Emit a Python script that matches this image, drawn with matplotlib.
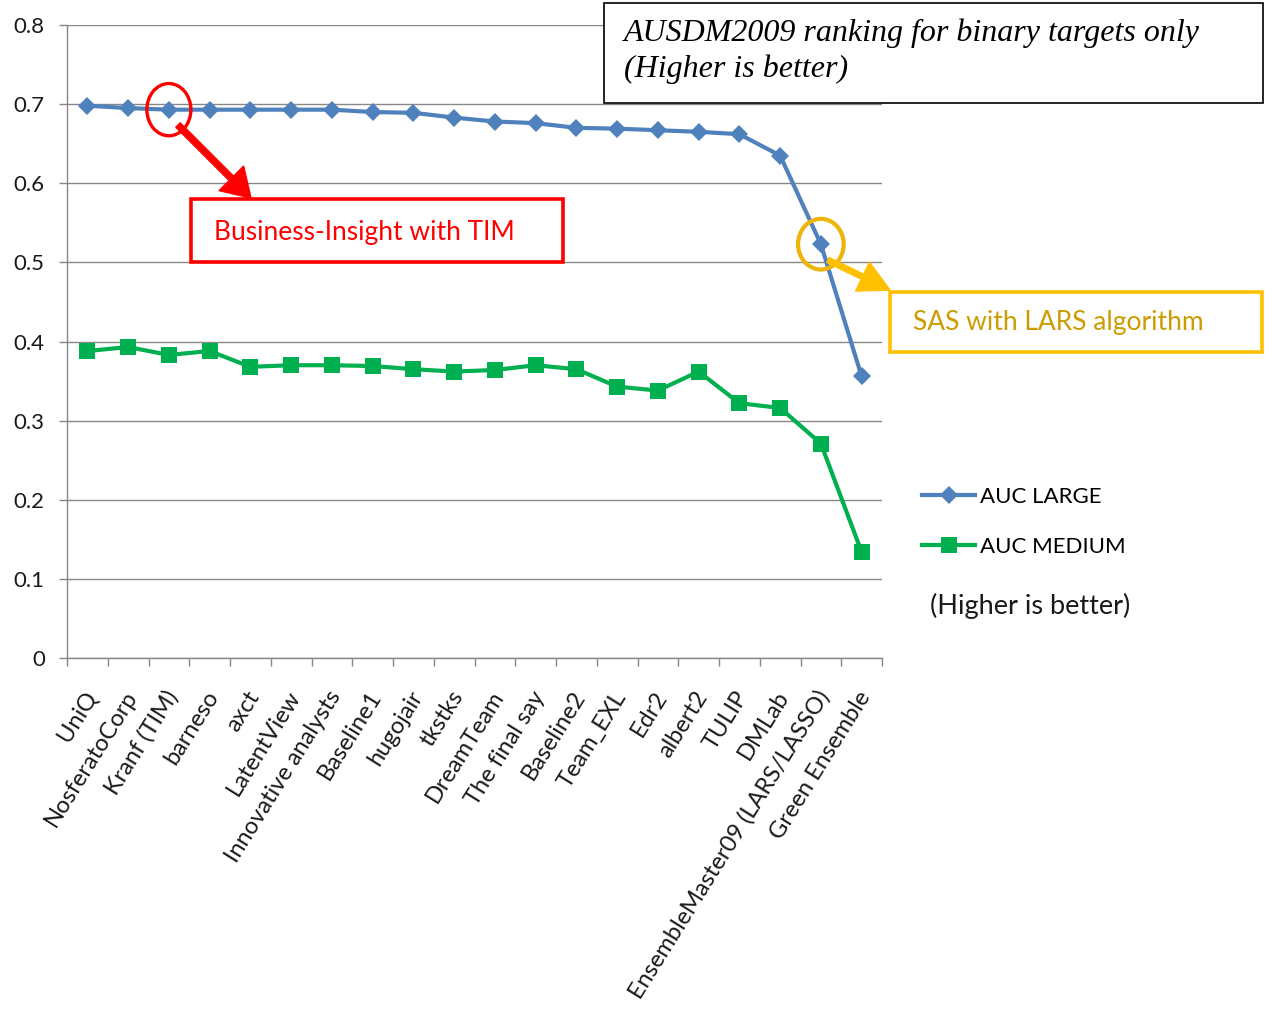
import matplotlib
matplotlib.use("Agg")
import matplotlib.pyplot as plt
from matplotlib.patches import Rectangle, Ellipse, FancyArrowPatch, ArrowStyle
from matplotlib.transforms import ScaledTranslation
import numpy as np

# ---------------- data ----------------
teams = ["UniQ", "NosferatoCorp", "Kranf (TIM)", "barneso", "axct", "LatentView",
         "Innovative analysts", "Baseline1", "hugojair", "tkstks", "DreamTeam",
         "The final say", "Baseline2", "Team_EXL", "Edr2", "albert2", "TULIP",
         "DMLab", "EnsembleMaster09 (LARS/LASSO)", "Green Ensemble"]

auc_large = [0.698, 0.695, 0.693, 0.693, 0.693, 0.693, 0.693, 0.690, 0.689, 0.683,
             0.678, 0.676, 0.670, 0.669, 0.667, 0.665, 0.662, 0.635, 0.523, 0.356]

auc_medium = [0.388, 0.393, 0.383, 0.388, 0.368, 0.370, 0.370, 0.369, 0.365, 0.362,
              0.364, 0.370, 0.365, 0.343, 0.338, 0.362, 0.322, 0.316, 0.271, 0.134]

y_ticks = [0, 0.1, 0.2, 0.3, 0.4, 0.5, 0.6, 0.7, 0.8]
y_tick_labels = ["0", "0.1", "0.2", "0.3", "0.4", "0.5", "0.6", "0.7", "0.8"]

title_lines = ["AUSDM2009 ranking for binary targets only", "(Higher is better)"]
tim_text = "Business-Insight with TIM"
sas_text = "SAS with LARS algorithm"

# ---------------- style ----------------
W, H = 1265, 1014
plt.rcParams["font.family"] = ["Lato", "DejaVu Sans"]

blue = "#4F81BD"
green = "#00B050"
grid_col = "#878787"
red = "#FF0000"
gold = "#FFC000"
gold_txt = "#CC9C00"
txt_col = "#1a1a1a"


def fp(x, y):
    # image pixel -> figure fraction
    return x / W, 1 - y / H


fig = plt.figure(figsize=(W / 100, H / 100), dpi=100)
ax = fig.add_axes([67 / W, 1 - 658 / H, (882 - 67) / W, (658 - 25) / H])

x = np.arange(len(teams))
ax.plot(x, auc_large, color=blue, lw=3, marker="D", ms=9, mew=0,
        label="AUC LARGE", zorder=3)
ax.plot(x, auc_medium, color=green, lw=3, marker="s", ms=12, mew=0,
        label="AUC MEDIUM", zorder=3)

ax.set_xlim(-0.5, len(teams) - 0.5)
ax.set_ylim(0, 0.8)

ax.set_yticks(y_ticks)
ax.set_yticklabels(y_tick_labels, fontsize=16, color=txt_col)
ax.tick_params(axis="y", length=6, width=1, color=grid_col, pad=10)

ax.set_xticks(x)
ax.set_xticklabels(teams, rotation=58, ha="right", va="center",
                   rotation_mode="anchor", fontsize=17, color=txt_col)
ax.tick_params(axis="x", which="major", length=0, pad=25)
shift = ScaledTranslation(4 / 100, 0, fig.dpi_scale_trans)
for lbl in ax.get_xticklabels():
    lbl.set_transform(lbl.get_transform() + shift)
ax.set_xticks(np.arange(-0.5, len(teams)), minor=True)
ax.tick_params(axis="x", which="minor", length=6, width=1, color=grid_col)

ax.yaxis.grid(True, color=grid_col, lw=1)
ax.set_axisbelow(True)
for s in ["top", "right"]:
    ax.spines[s].set_visible(False)
for s in ["left", "bottom"]:
    ax.spines[s].set_color(grid_col)
    ax.spines[s].set_linewidth(1)

# highlight circles on the two points of interest
ax.add_patch(Ellipse((2, auc_large[2]), 1.08, 0.066, fill=False, ec=red, lw=2.4, zorder=4))
ax.add_patch(Ellipse((18, auc_large[18]), 1.12, 0.064, fill=False, ec="#EDB40A", lw=3, zorder=4))

# legend
ax.legend(loc="center left", bbox_to_anchor=fp(922, 522), bbox_transform=fig.transFigure,
          frameon=False, fontsize=16, handlelength=2.4, handletextpad=0.2,
          labelspacing=1.35, borderpad=0, borderaxespad=0)
fig.text(*fp(930, 606), "(Higher is better)", fontsize=19.5, color=txt_col, va="center")

# title box
fig.add_artist(Rectangle(fp(604, 103), (1263 - 604) / W, 100 / H, transform=fig.transFigure,
                         fc="white", ec="black", lw=1.2, zorder=5))
fig.text(*fp(624, 33), title_lines[0], fontsize=23,
         family="Liberation Serif", style="italic", va="center", zorder=6)
fig.text(*fp(624, 69), title_lines[1], fontsize=23,
         family="Liberation Serif", style="italic", va="center", zorder=6)

# red call-out
fig.add_artist(Rectangle(fp(191, 262), (563 - 191) / W, 63 / H, transform=fig.transFigure,
                         fc="white", ec=red, lw=2.6, zorder=5))
fig.text(*fp(214, 232), tim_text, fontsize=19, color=red, va="center", zorder=6)
fig.add_artist(FancyArrowPatch(fp(178, 125), fp(251, 198), transform=fig.transFigure,
                               arrowstyle=ArrowStyle.Simple(head_length=20, head_width=25, tail_width=4.5),
                               mutation_scale=1, color=red, shrinkA=0, shrinkB=0, zorder=5))

# gold call-out
fig.add_artist(Rectangle(fp(890, 352), (1262 - 890) / W, 60 / H, transform=fig.transFigure,
                         fc="white", ec=gold, lw=2.6, zorder=5))
fig.text(*fp(913, 322), sas_text, fontsize=19, color=gold_txt, va="center", zorder=6)
fig.add_artist(FancyArrowPatch(fp(828, 260), fp(890, 290), transform=fig.transFigure,
                               arrowstyle=ArrowStyle.Simple(head_length=22, head_width=23, tail_width=4),
                               mutation_scale=1, color=gold, shrinkA=0, shrinkB=0, zorder=5))

fig.savefig("out.png", dpi=100)
